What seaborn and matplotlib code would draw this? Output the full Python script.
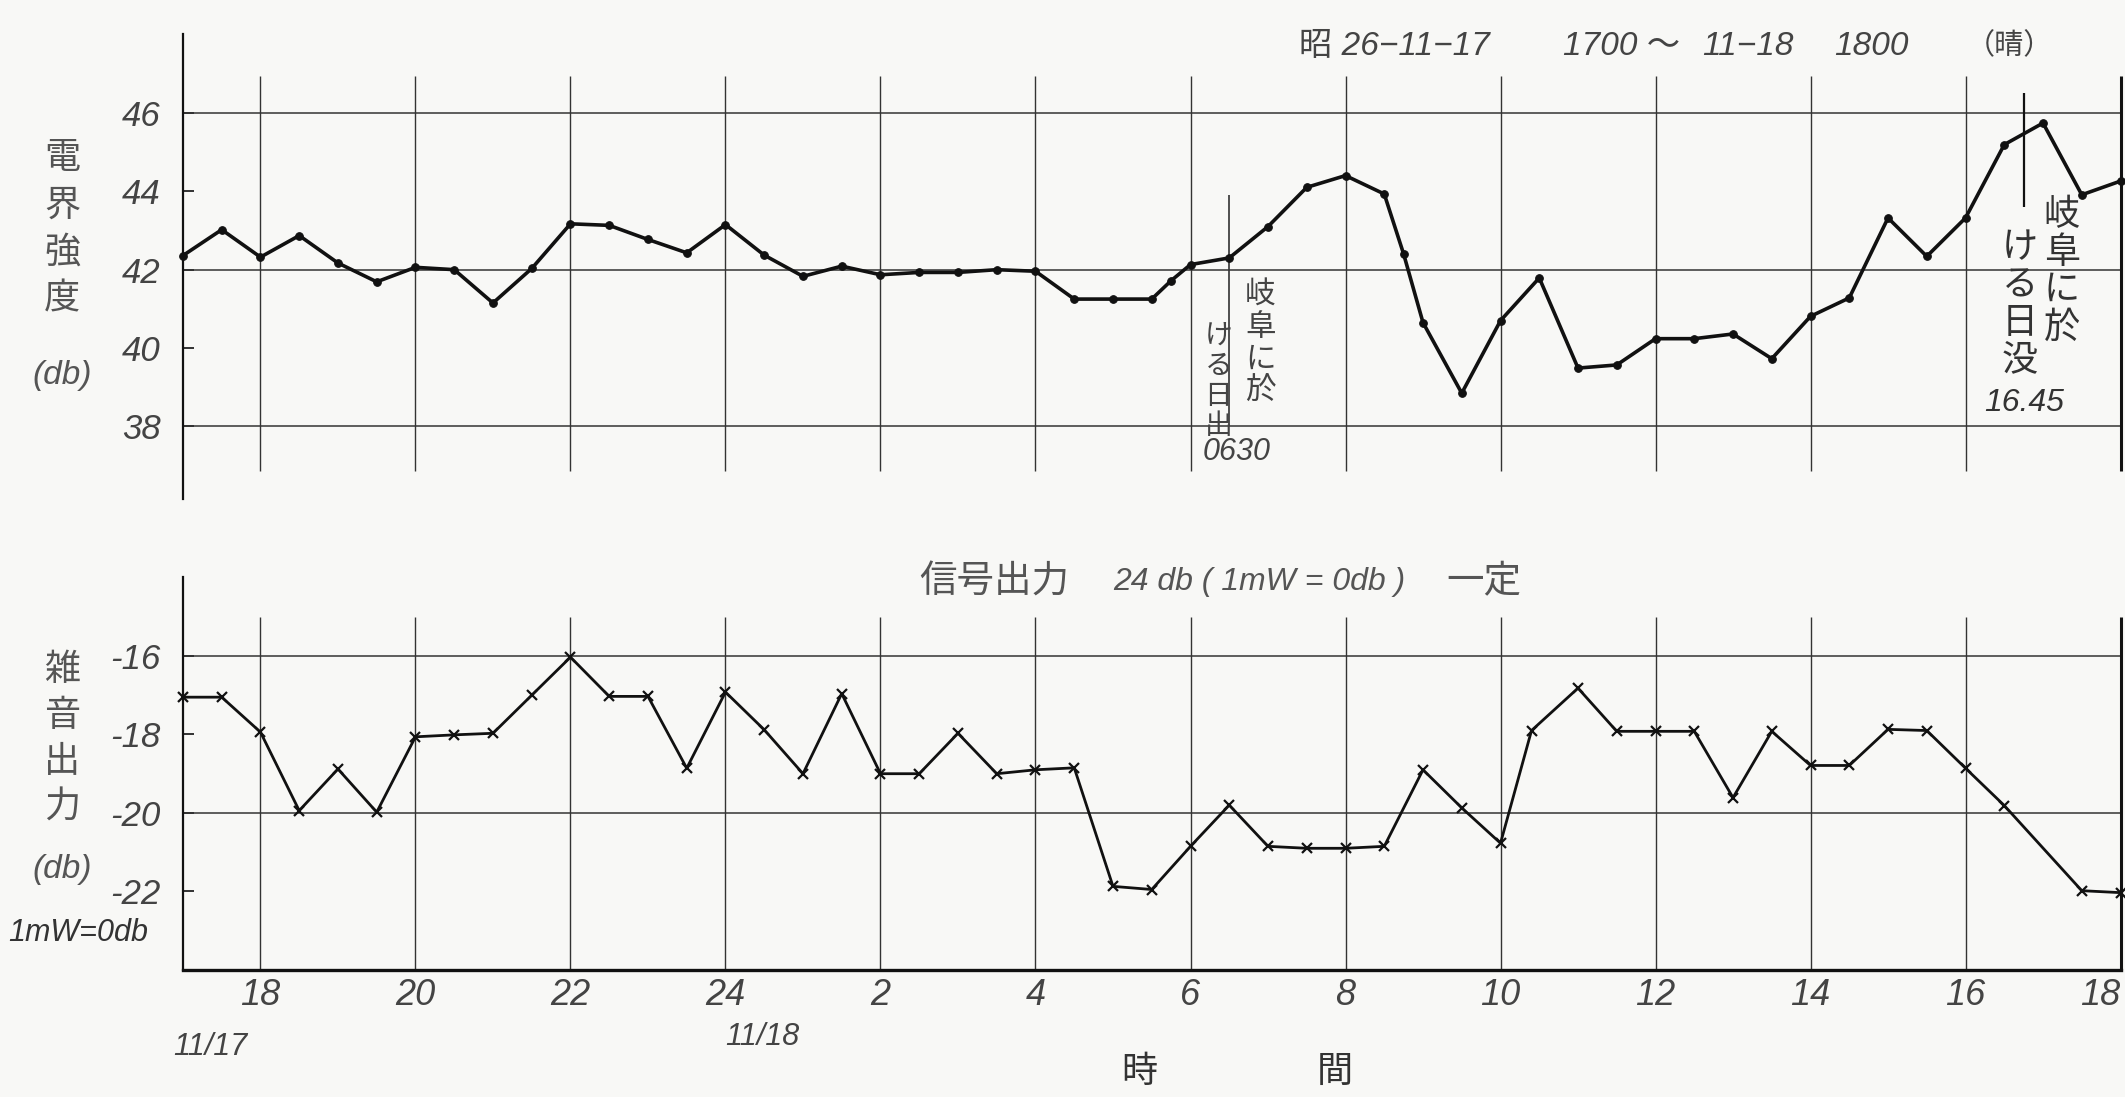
import matplotlib.pyplot as plt
import seaborn as sns
import pandas as pd

# hours counted from 11/17 00:00, so 24 is midnight and 42 is 11/18 18:00
field_hours = [17.0, 17.5, 18.0, 18.5, 19.0, 19.5, 20.0, 20.5, 21.0, 21.5,
               22.0, 22.5, 23.0, 23.5, 24.0, 24.5, 25.0, 25.5, 26.0, 26.5,
               27.0, 27.5, 28.0, 28.5, 29.0, 29.5, 29.75, 30.0, 30.5, 31.0,
               31.5, 32.0, 32.5, 32.75, 33.0, 33.5, 34.0, 34.5, 35.0, 35.5,
               36.0, 36.5, 37.0, 37.5, 38.0, 38.5, 39.0, 39.5, 40.0, 40.5,
               41.0, 41.5, 42.0]
field_db = [42.36, 43.02, 42.32, 42.87, 42.17, 41.69, 42.06, 42.0, 41.15, 42.03,
            43.17, 43.13, 42.77, 42.43, 43.15, 42.37, 41.83, 42.09, 41.87, 41.93,
            41.93, 42.0, 41.96, 41.25, 41.25, 41.25, 41.72, 42.13, 42.3, 43.1,
            44.1, 44.4, 43.93, 42.4, 40.65, 38.85, 40.7, 41.79, 39.49, 39.57,
            40.24, 40.24, 40.36, 39.73, 40.81, 41.28, 43.32, 42.34, 43.32, 45.19,
            45.74, 43.91, 44.26]

noise_hours = [17.0, 17.5, 18.0, 18.5, 19.0, 19.5, 20.0, 20.5, 21.0, 21.5,
               22.0, 22.5, 23.0, 23.5, 24.0, 24.5, 25.0, 25.5, 26.0, 26.5,
               27.0, 27.5, 28.0, 28.5, 29.0, 29.5, 30.0, 30.5, 31.0, 31.5,
               32.0, 32.5, 33.0, 33.5, 34.0, 34.4, 35.0, 35.5, 36.0, 36.5,
               37.0, 37.5, 38.0, 38.5, 39.0, 39.5, 40.0, 40.5, 41.5, 42.0]
noise_db = [-17.05, -17.05, -17.94, -19.94, -18.88, -19.98, -18.06, -18.01, -17.97, -17.0,
            -16.03, -17.03, -17.03, -18.86, -16.92, -17.88, -19.0, -16.96, -19.0, -19.0,
            -17.97, -19.0, -18.9, -18.85, -21.87, -21.95, -20.85, -19.8, -20.85, -20.9,
            -20.9, -20.85, -18.9, -19.87, -20.77, -17.9, -16.82, -17.92, -17.92, -17.92,
            -19.61, -17.92, -18.79, -18.79, -17.87, -17.9, -18.86, -19.81, -21.98, -22.03]

tick_hours = [18, 20, 22, 24, 26, 28, 30, 32, 34, 36, 38, 40, 42]
tick_labels = ['18', '20', '22', '24', '2', '4', '6', '8', '10', '12', '14', '16', '18']
field_ticks = [38, 40, 42, 44, 46]
field_grid = [38, 42, 46]
noise_ticks = [-22, -20, -18, -16]
noise_grid = [-20, -16]

sunrise_hour = 30.5   # 06:30
sunset_hour = 40.75   # 16:45

bg = '#f8f8f6'
ink = '#111111'
grey = '#444444'
NUM = ['Liberation Sans', 'DejaVu Sans', 'Noto Sans CJK JP']
JP = ['Noto Sans CJK JP', 'DejaVu Sans']

sns.set_theme(style='white', rc={'axes.facecolor': bg, 'figure.facecolor': bg})
plt.rcParams['font.family'] = ['DejaVu Sans', 'Noto Sans CJK JP']
plt.rcParams['axes.unicode_minus'] = False

fig = plt.figure(figsize=(21.25, 10.97), dpi=100)
ax1 = fig.add_axes([0.0861, 0.5451, 0.9118, 0.4235])
ax2 = fig.add_axes([0.0861, 0.1158, 0.9118, 0.3578])

field = pd.DataFrame({'hour': field_hours, 'db': field_db})
noise = pd.DataFrame({'hour': noise_hours, 'db': noise_db})

sns.lineplot(data=field, x='hour', y='db', ax=ax1, color=ink, lw=2.6,
             marker='o', markersize=5.5, markeredgecolor=ink, clip_on=False, zorder=4)
sns.lineplot(data=noise, x='hour', y='db', ax=ax2, color=ink, lw=2.0,
             marker='x', markersize=7, markeredgewidth=1.6, markeredgecolor=ink,
             clip_on=False, zorder=4)

# grid, drawn by hand because the vertical lines stop short of the frame
ax1.hlines(field_grid, 17, 42, color='#333333', lw=1.1, zorder=1)
ax1.vlines(tick_hours[:-1], 36.87, 46.94, color='#333333', lw=1.0, zorder=1)
ax1.vlines(tick_hours[-1], 36.87, 46.94, color=ink, lw=2.2, zorder=1, clip_on=False)
ax2.hlines(noise_grid, 17, 42, color='#333333', lw=1.1, zorder=1)
ax2.vlines(tick_hours[:-1], -24, -15.0, color='#333333', lw=1.0, zorder=1)
ax2.vlines(tick_hours[-1], -24, -15.0, color=ink, lw=2.2, zorder=1, clip_on=False)

ax1.set_xlim(17, 42)
ax1.set_ylim(36.15, 48)
ax2.set_xlim(17, 42)
ax2.set_ylim(-24, -14)

for ax in (ax1, ax2):
    ax.set_xlabel('')
    ax.set_ylabel('')
    for side in ('top', 'right', 'bottom'):
        ax.spines[side].set_visible(False)
    ax.spines['left'].set_color(ink)
    ax.spines['left'].set_linewidth(1.6)
    ax.tick_params(axis='y', direction='in', length=8, width=1.2, color=ink,
                   labelsize=25, labelcolor=grey, pad=16, left=True)
ax2.spines['bottom'].set_visible(True)
ax2.spines['bottom'].set_color(ink)
ax2.spines['bottom'].set_linewidth(2.4)

ax1.set_xticks([])
ax1.set_yticks(field_ticks)
ax2.set_yticks(noise_ticks)
ax2.set_xticks(tick_hours, tick_labels)
ax2.tick_params(axis='x', length=0, labelsize=26, labelcolor=grey, pad=6)
for lbl in ax1.get_yticklabels() + ax2.get_yticklabels() + ax2.get_xticklabels():
    lbl.set_style('italic')
    lbl.set_family(NUM)
ax2.get_xticklabels()[-1].set_ha('right')

# axis titles (vertical Japanese)
ax1.text(15.44, 45.3, '\n'.join('電界強度'), ha='center', va='top', fontsize=26,
         linespacing=1.4, color='#555555', family=JP)
ax1.text(15.44, 39.3, '(db)', ha='center', va='center', fontsize=24,
         style='italic', color='#555555', family=NUM)
ax2.text(15.44, -15.9, '\n'.join('雑音出力'), ha='center', va='top', fontsize=26,
         linespacing=1.35, color='#555555', family=JP)
ax2.text(15.44, -21.45, '(db)', ha='center', va='center', fontsize=24,
         style='italic', color='#555555', family=NUM)
ax2.text(15.65, -23.05, '1mW=0db', ha='center', va='center', fontsize=22,
         style='italic', color='#333333', family=NUM)

# header of the upper panel
ax1.text(31.4, 47.7, '昭 26−11−17', ha='left', va='center', fontsize=24,
         style='italic', color=grey, family=NUM)
ax1.text(34.8, 47.7, '1700 ～', ha='left', va='center', fontsize=24,
         style='italic', color=grey, family=NUM)
ax1.text(36.6, 47.7, '11−18', ha='left', va='center', fontsize=24,
         style='italic', color=grey, family=NUM)
ax1.text(38.3, 47.7, '1800', ha='left', va='center', fontsize=24,
         style='italic', color=grey, family=NUM)
ax1.text(40.0, 47.7, '（晴）', ha='left', va='center', fontsize=21,
         color=grey, family=JP)

# sunrise / sunset marks
ax1.vlines(sunrise_hour, 38.0, 43.9, color='#333333', lw=1.2, zorder=2)
ax1.text(30.9, 41.75, '\n'.join('岐阜に於'), ha='center', va='top', fontsize=22,
         linespacing=1.05, color='#444444', family=JP)
ax1.text(30.36, 40.7, '\n'.join('ける日出'), ha='center', va='top', fontsize=20,
         linespacing=1.0, color='#444444', family=JP)
ax1.text(30.6, 37.35, '0630', ha='center', va='center', fontsize=22,
         style='italic', color='#444444', family=NUM)

ax1.vlines(sunset_hour, 43.6, 46.5, color=ink, lw=1.6, zorder=2)
ax1.text(41.24, 43.85, '\n'.join('岐阜に於'), ha='center', va='top', fontsize=26,
         linespacing=1.05, color='#333333', family=JP)
ax1.text(40.70, 43.0, '\n'.join('ける日没'), ha='center', va='top', fontsize=26,
         linespacing=1.05, color='#333333', family=JP)
ax1.text(40.76, 38.6, '16.45', ha='center', va='center', fontsize=23,
         style='italic', color='#333333', family=NUM)

# caption of the lower panel
ax2.text(26.5, -14.12, '信号出力', ha='left', va='center', fontsize=27,
         color='#555555', family=JP)
ax2.text(29.0, -14.12, '24 db ( 1mW = 0db )', ha='left', va='center', fontsize=23,
         style='italic', color='#555555', family=NUM)
ax2.text(33.3, -14.12, '一定', ha='left', va='center', fontsize=27,
         color='#555555', family=JP)

# dates and time label under the axis
ax2.text(17.35, -25.96, '11/17', ha='center', va='center', fontsize=22,
         style='italic', color=grey, family=NUM)
ax2.text(24.47, -25.7, '11/18', ha='center', va='center', fontsize=22,
         style='italic', color=grey, family=NUM)
ax2.text(29.34, -26.6, '時', ha='center', va='center', fontsize=26,
         color='#333333', family=JP)
ax2.text(31.86, -26.6, '間', ha='center', va='center', fontsize=26,
         color='#333333', family=JP)

fig.savefig('out.png', dpi=100, facecolor=bg)
plt.close(fig)
